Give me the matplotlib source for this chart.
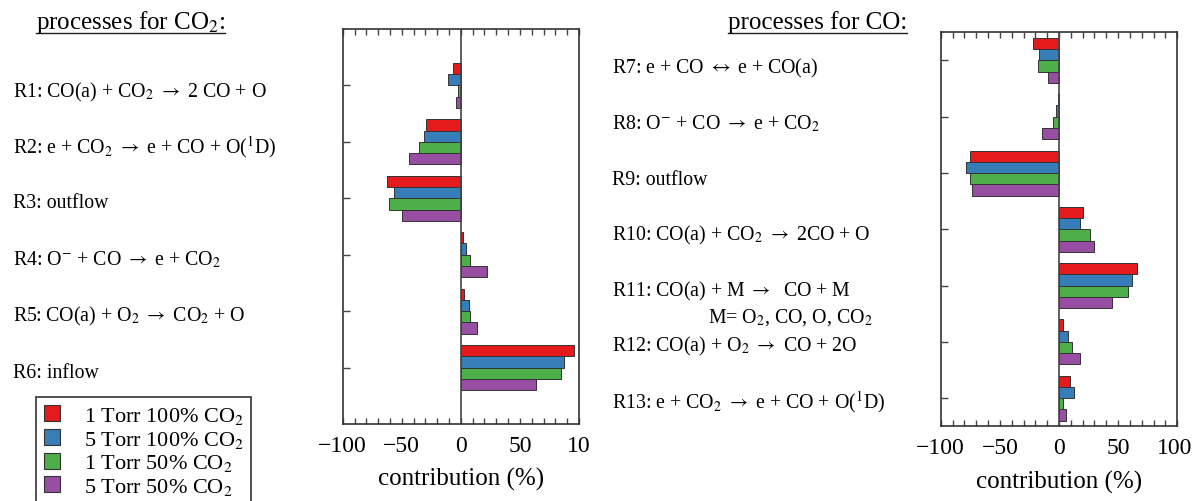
import numpy as np
import matplotlib.pyplot as plt
import matplotlib.transforms as mtrans
from matplotlib.patches import Patch
from matplotlib.lines import Line2D

plt.rcParams['font.family'] = ['Liberation Serif', 'DejaVu Serif']
plt.rcParams['mathtext.fontset'] = 'stix'

W, H = 1192, 502

series = ['1 Torr 100% CO$_2$', '5 Torr 100% CO$_2$',
          '1 Torr 50% CO$_2$', '5 Torr 50% CO$_2$']
colors = ['#e41a1c', '#377eb8', '#4daf4a', '#984ea3']

co2_labels = [r'R1: CO(a) + CO$_2$ $\rightarrow$ 2 CO + O',
              r'R2: e + CO$_2$ $\rightarrow$ e + CO + O($^{1}$D)',
              'R3: outflow',
              r'R4: O$^{-}$ + CO $\rightarrow$ e + CO$_2$',
              r'R5: CO(a) + O$_2$ $\rightarrow$ CO$_2$ + O',
              'R6: inflow']
co2_1torr100 = [-6.5, -29.5, -62.5, 1.7, 2.8, 95.5]
co2_5torr100 = [-11.0, -31.0, -56.5, 4.0, 6.8, 87.0]
co2_1torr50 = [-2.5, -35.0, -61.0, 7.4, 7.4, 85.0]
co2_5torr50 = [-4.3, -44.0, -49.5, 22.0, 13.6, 63.6]

co_labels = [r'R7: e + CO $\leftrightarrow$ e + CO(a)',
             r'R8: O$^{-}$ + CO $\rightarrow$ e + CO$_2$',
             'R9: outflow',
             r'R10: CO(a) + CO$_2$ $\rightarrow$ 2CO + O',
             r'R11: CO(a) + M $\rightarrow$  CO + M',
             r'R12: CO(a) + O$_2$ $\rightarrow$ CO + 2O',
             r'R13: e + CO$_2$ $\rightarrow$ e + CO + O($^{1}$D)']
co_1torr100 = [-21.6, -1.1, -75.0, 20.2, 65.7, 3.7, 9.3]
co_5torr100 = [-16.6, -2.2, -78.7, 17.7, 61.8, 7.3, 12.4]
co_1torr50 = [-17.4, -5.3, -75.3, 25.8, 58.7, 11.0, 3.7]
co_5torr50 = [-9.0, -14.6, -73.9, 29.8, 44.7, 18.0, 6.2]

fig = plt.figure(figsize=(W / 100, H / 100), dpi=100)


def px(x, y):
    return x / W, 1 - y / H


def panel(x0, y0, x1, y1, values, ylim, ticklabels):
    ax = fig.add_axes([x0 / W, 1 - y1 / H, (x1 - x0) / W, (y1 - y0) / H])
    pos = np.arange(len(values[0]))
    for k, (vals, c) in enumerate(zip(values, colors)):
        ax.barh(pos + (k - 1.5) * 0.2, vals, height=0.2, color=c,
                edgecolor='#333333', linewidth=0.7)
    ax.axvline(0, color='#444444', lw=1.2)
    ax.set_xlim(-100, 100)
    ax.set_ylim(*ylim)
    ax.set_yticks(pos)
    ax.set_yticklabels([])
    ax.set_xticks([-100, -50, 0, 50, 100])
    ax.set_xticklabels(ticklabels, fontsize=17)
    ax.set_xticks(np.arange(-100, 101, 10), minor=True)
    ax.tick_params(axis='x', which='both', direction='in', top=True,
                   length=4.5, width=1, color='#444444', pad=8)
    ax.tick_params(axis='y', direction='in', length=5, width=1,
                   color='#444444')
    for s in ax.spines.values():
        s.set_color('#333333')
        s.set_linewidth(1.2)
    ax.set_xlabel('contribution (%)', fontsize=18, labelpad=8)
    return ax


panel(342.7, 30, 579, 425,
      [co2_1torr100, co2_5torr100, co2_1torr50, co2_5torr50],
      (6, -1), ['\u2212100', '\u221250', '0', '50', '10'])
ax2 = panel(940.7, 33.3, 1177.3, 427.3,
            [co_1torr100, co_5torr100, co_1torr50, co_5torr50],
            (6.5, -0.5), ['\u2212100', '\u221250', '0', '50', '100'])
# keep the last tick label inside the figure
last = ax2.get_xticklabels()[-1]
last.set_transform(last.get_transform() +
                   mtrans.ScaledTranslation(-3 / 100, 0, fig.dpi_scale_trans))

# reaction labels
co2_base = [97.3, 152.7, 208.3, 265, 321, 378.3]
for lab, yb in zip(co2_labels, co2_base):
    fig.text(*px(12.7, yb), lab, fontsize=14.3, va='baseline', ha='left')

co_base = [73.3, 129.3, 185, 240.7, 296, 351.7, 408.3]
for lab, yb in zip(co_labels, co_base):
    fig.text(*px(611.7, yb), lab, fontsize=14.3, va='baseline', ha='left')
fig.text(*px(708.3, 322.7), 'M= O$_2$, CO, O, CO$_2$', fontsize=14.3,
         va='baseline', ha='left')

# underlined headings
renderer = fig.canvas.get_renderer()
for x, txt in [(36, 'processes for CO$_2$:'), (728, 'processes for CO:')]:
    t = fig.text(*px(x, 29.5), txt, fontsize=18, va='baseline', ha='left')
    bb = t.get_window_extent(renderer)
    fig.add_artist(Line2D([bb.x0 / W, bb.x1 / W], [1 - 33.5 / H] * 2,
                          transform=fig.transFigure, color='#222222', lw=1))

handles = [Patch(facecolor=c, edgecolor='#333333', linewidth=0.8) for c in colors]
leg = fig.legend(handles, series, loc='upper left', bbox_to_anchor=px(36, 398.3),
                 bbox_transform=fig.transFigure, frameon=True, fancybox=False,
                 edgecolor='#333333', framealpha=1, fontsize=16,
                 handlelength=0.72, handleheight=0.72, handletextpad=1.07,
                 labelspacing=0.12, borderpad=0.35, borderaxespad=0)
leg.get_frame().set_linewidth(1.2)

fig.savefig('out.png', dpi=100)
